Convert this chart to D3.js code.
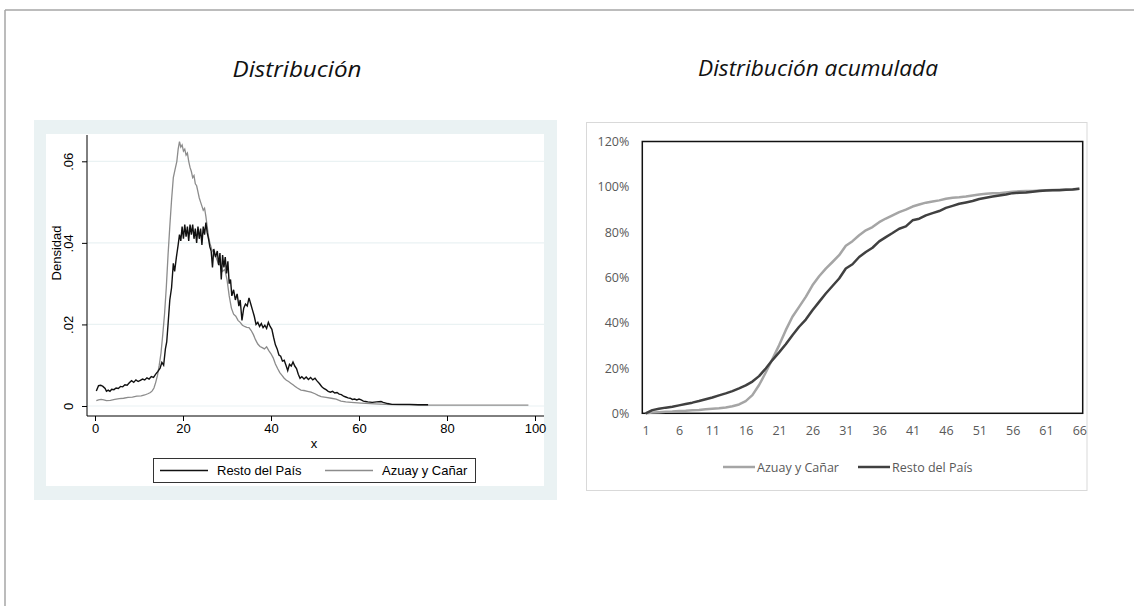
<!DOCTYPE html>
<html>
<head>
<meta charset="utf-8">
<script src="https://cdn.jsdelivr.net/npm/d3@7"></script>
<style>
  body { margin: 0; background: #fff; }
  svg { display: block; }
</style>
</head>
<body>
<svg id="chart" width="1134" height="606"></svg>
<script>
// density curves (Stata kdensity-like), [x, densidad]
const restoDens = [
  [0.3,0.0037],[0.8,0.0050],[1.3,0.0051],[1.8,0.0048],[2.3,0.0043],[2.6,0.0036],[3.0,0.0039],[3.4,0.0036],
  [3.8,0.0041],[4.3,0.0040],[4.8,0.0044],[5.3,0.0043],[5.8,0.0048],[6.3,0.0047],[6.8,0.0052],[7.3,0.0051],
  [7.8,0.0057],[8.3,0.0062],[8.8,0.0058],[9.3,0.0064],[9.8,0.0060],[10.3,0.0063],[10.8,0.0066],[11.3,0.0064],
  [11.8,0.0069],[12.3,0.0066],[12.8,0.0072],[13.3,0.0070],[13.8,0.0078],[14.3,0.0085],[14.8,0.0093],[15.2,0.0107],
  [15.6,0.0100],[16.0,0.0140],[16.3,0.0157],[16.6,0.0200],[17.0,0.0260],[17.4,0.0290],[17.8,0.0350],[18.1,0.0330],
  [18.5,0.0365],[18.9,0.0395],[19.2,0.0420],[19.5,0.0405],[19.8,0.0440],[20.1,0.0410],[20.4,0.0445],[20.7,0.0415],
  [21.0,0.0440],[21.3,0.0405],[21.6,0.0445],[21.9,0.0420],[22.2,0.0445],[22.5,0.0410],[22.8,0.0435],[23.1,0.0400],
  [23.4,0.0440],[23.7,0.0410],[24.0,0.0435],[24.3,0.0395],[24.6,0.0440],[24.9,0.0420],[25.2,0.0450],[25.5,0.0425],
  [25.8,0.0410],[26.1,0.0390],[26.4,0.0380],[26.7,0.0340],[27.0,0.0385],[27.4,0.0365],[27.8,0.0380],[28.1,0.0345],
  [28.4,0.0375],[28.7,0.0310],[29.0,0.0370],[29.3,0.0340],[29.6,0.0365],[29.9,0.0325],[30.2,0.0355],[30.5,0.0300],
  [30.8,0.0310],[31.1,0.0270],[31.5,0.0285],[31.9,0.0260],[32.3,0.0275],[32.7,0.0245],[33.0,0.0260],[33.4,0.0210],
  [33.8,0.0240],[34.2,0.0250],[34.6,0.0245],[35.0,0.0265],[35.4,0.0250],[35.8,0.0235],[36.2,0.0220],[36.6,0.0200],
  [37.0,0.0205],[37.4,0.0195],[37.8,0.0202],[38.2,0.0192],[38.6,0.0198],[39.0,0.0190],[39.4,0.0205],[39.8,0.0195],
  [40.2,0.0188],[40.6,0.0168],[41.0,0.0150],[41.4,0.0140],[41.8,0.0125],[42.2,0.0122],[42.6,0.0110],[43.0,0.0112],
  [43.4,0.0100],[43.8,0.0087],[44.2,0.0102],[44.6,0.0098],[45.0,0.0108],[45.4,0.0098],[45.8,0.0092],[46.2,0.0078],
  [46.6,0.0068],[47.0,0.0072],[47.5,0.0066],[48.0,0.0071],[48.5,0.0065],[49.0,0.0070],[49.5,0.0064],[50.0,0.0068],
  [50.5,0.0061],[51.0,0.0055],[51.5,0.0048],[52.0,0.0043],[52.5,0.0040],[53.0,0.0036],[53.5,0.0034],[54.0,0.0036],
  [54.5,0.0032],[55.0,0.0033],[55.5,0.0029],[56.0,0.0028],[56.5,0.0024],[57.0,0.0022],[57.5,0.0020],[58.0,0.0019],
  [58.5,0.0016],[59.0,0.0017],[59.5,0.0015],[60.0,0.0017],[60.5,0.0015],[61.0,0.0012],[61.5,0.0011],[62.0,0.0010],
  [63.0,0.0009],[64.0,0.0010],[65.0,0.0011],[65.5,0.0009],[66.5,0.0006],[67.5,0.0004],[70.0,0.0004],[71.5,0.0004],
  [73.5,0.0003],[75.7,0.0003]
];
const azuayDens = [
  [0.3,0.0013],[0.8,0.0015],[1.4,0.0016],[2.0,0.0015],[2.6,0.0013],[3.5,0.0014],[4.5,0.0016],[5.5,0.0018],
  [6.5,0.0019],[7.5,0.0021],[8.5,0.0022],[9.5,0.0024],[10.5,0.0025],[11.3,0.0027],[12.0,0.0030],[12.6,0.0033],
  [13.0,0.0037],[13.4,0.0044],[13.8,0.0058],[14.2,0.0075],[14.6,0.0100],[15.0,0.0130],[15.4,0.0175],[15.8,0.0225],
  [16.2,0.0290],[16.6,0.0370],[17.0,0.0440],[17.4,0.0505],[17.8,0.0560],[18.2,0.0580],[18.6,0.0600],[18.9,0.0630],
  [19.2,0.0648],[19.5,0.0635],[19.8,0.0640],[20.1,0.0625],[20.4,0.0630],[20.7,0.0615],[21.0,0.0620],[21.3,0.0600],
  [21.6,0.0585],[21.9,0.0575],[22.2,0.0560],[22.5,0.0565],[22.8,0.0545],[23.1,0.0540],[23.4,0.0525],[23.7,0.0510],
  [24.0,0.0500],[24.3,0.0490],[24.6,0.0480],[24.9,0.0485],[25.2,0.0465],[25.5,0.0440],[25.8,0.0415],[26.1,0.0400],
  [26.5,0.0385],[27.0,0.0375],[27.5,0.0365],[28.0,0.0350],[28.5,0.0345],[29.0,0.0330],[29.5,0.0335],[30.0,0.0310],
  [30.5,0.0270],[31.0,0.0240],[31.5,0.0225],[32.0,0.0220],[32.5,0.0210],[33.0,0.0205],[33.5,0.0198],[34.0,0.0195],
  [34.5,0.0193],[35.0,0.0192],[35.5,0.0185],[36.0,0.0175],[36.5,0.0162],[37.0,0.0152],[37.5,0.0146],[38.0,0.0143],
  [38.5,0.0140],[39.0,0.0145],[39.5,0.0136],[40.0,0.0128],[40.5,0.0118],[41.0,0.0103],[41.5,0.0092],[42.0,0.0082],
  [42.5,0.0075],[43.0,0.0068],[43.5,0.0063],[44.0,0.0060],[44.5,0.0056],[45.0,0.0052],[45.5,0.0048],[46.0,0.0044],
  [46.8,0.0039],[47.5,0.0038],[48.3,0.0036],[49.1,0.0034],[50.0,0.0030],[50.7,0.0026],[51.4,0.0023],[52.5,0.0021],
  [53.7,0.0019],[54.8,0.0017],[55.9,0.0012],[57.0,0.0010],[58.2,0.0009],[60.5,0.0007],[63.6,0.0005],[66.0,0.0004],
  [68.9,0.0003],[75.0,0.0002],[82.6,0.0002],[90.0,0.0002],[98.5,0.0002]
];
const densXTicks = [0, 20, 40, 60, 80, 100];
const densYTicks = [0, 0.02, 0.04, 0.06];

// cumulative distribution, categories 1..66 (percent)
const categories = d3.range(1, 67);
const azuayCum = [
  0, 0.3, 0.5, 0.7, 0.8, 1.0, 1.1, 1.3, 1.5, 1.8, 2.0, 2.2, 2.6, 3.1, 3.9, 5.4, 8.0, 12.5, 18.0, 24.0,
  30.0, 36.7, 42.6, 47.0, 51.4, 56.5, 60.5, 63.9, 66.8, 69.8, 74.0, 76.0, 78.6, 80.8, 82.2, 84.4, 86.0, 87.4, 88.8, 89.9,
  91.3, 92.2, 93.0, 93.5, 94.0, 94.7, 95.2, 95.4, 95.7, 96.2, 96.6, 96.9, 97.1, 97.2, 97.5, 97.8, 98.0, 98.1, 98.2, 98.4,
  98.5, 98.6, 98.7, 98.8, 98.9, 99.1
];
const restoCum = [
  0, 1.4, 2.0, 2.5, 2.9, 3.5, 4.1, 4.7, 5.4, 6.2, 7.0, 7.9, 8.8, 9.8, 11.0, 12.3, 14.0, 16.4, 19.8, 23.5,
  26.9, 30.5, 34.5, 38.2, 41.4, 45.5, 49.2, 52.9, 56.2, 59.5, 63.9, 65.8, 69.0, 71.2, 73.1, 75.9, 77.8, 79.6, 81.5, 82.5,
  85.2, 85.9, 87.4, 88.4, 89.3, 90.7, 91.6, 92.5, 93.1, 93.7, 94.6, 95.2, 95.7, 96.2, 96.6, 97.2, 97.4, 97.5, 97.8, 98.1,
  98.4, 98.5, 98.5, 98.7, 98.8, 99.1
];
const cumYTicks = [0, 20, 40, 60, 80, 100, 120];

const svg = d3.select("#chart");

// page frame
svg.append("line").attr("x1", 5).attr("x2", 1134).attr("y1", 10).attr("y2", 10)
  .attr("stroke", "#a6a6a6").attr("stroke-width", 1.5);
svg.append("line").attr("x1", 5).attr("x2", 5).attr("y1", 10).attr("y2", 606)
  .attr("stroke", "#a6a6a6").attr("stroke-width", 1.5);

// titles
const titleFont = "'Open Sans', 'Noto Sans', sans-serif";
svg.append("text").attr("x", 297).attr("y", 77).attr("text-anchor", "middle")
  .attr("font-family", titleFont).attr("font-style", "italic").attr("font-size", 22)
  .attr("textLength", 129).attr("lengthAdjust", "spacingAndGlyphs")
  .attr("fill", "#111").text("Distribución");
svg.append("text").attr("x", 818).attr("y", 76).attr("text-anchor", "middle")
  .attr("font-family", titleFont).attr("font-style", "italic").attr("font-size", 22)
  .attr("textLength", 240).attr("lengthAdjust", "spacingAndGlyphs")
  .attr("fill", "#111").text("Distribución acumulada");

// ---------- left: density (Stata look) ----------
const stataFont = "'Liberation Sans', Arial, sans-serif";
const left = svg.append("g");
left.append("rect").attr("x", 34).attr("y", 120).attr("width", 523).attr("height", 380).attr("fill", "#eaf2f3");
left.append("rect").attr("x", 46).attr("y", 134).attr("width", 498).attr("height", 352).attr("fill", "#fff");

const dx = d3.scaleLinear().domain([0, 100]).range([95, 535]);
const dy = d3.scaleLinear().domain([0, 0.06]).range([406, 161.3]);

// gridlines
left.append("g").selectAll("line").data(densYTicks).join("line")
  .attr("x1", 87).attr("x2", 544).attr("y1", d => dy(d)).attr("y2", d => dy(d))
  .attr("stroke", "#eaf2f3").attr("stroke-width", 1.2);

const yAxisL = left.append("g").attr("transform", "translate(87,0)")
  .call(d3.axisLeft(dy).tickValues(densYTicks).tickSize(5).tickFormat(d => d === 0 ? "0" : d3.format(".2f")(d).replace(/^0/, "")));
yAxisL.select(".domain").attr("d", "M0,135V416").attr("stroke", "#000");
yAxisL.selectAll(".tick line").attr("stroke", "#000");
yAxisL.selectAll(".tick text")
  .attr("x", 0).attr("y", 0).attr("dy", 0)
  .attr("transform", "translate(-14,0) rotate(-90)")
  .attr("text-anchor", "middle")
  .attr("font-family", stataFont).attr("font-size", 13).attr("fill", "#000");

const xAxisL = left.append("g").attr("transform", "translate(0,416)")
  .call(d3.axisBottom(dx).tickValues(densXTicks).tickSize(5).tickFormat(d3.format("d")));
xAxisL.select(".domain").attr("d", "M87,0H544").attr("stroke", "#000");
xAxisL.selectAll(".tick line").attr("stroke", "#000");
xAxisL.selectAll(".tick text").attr("y", 8).attr("dy", "0.71em")
  .attr("font-family", stataFont).attr("font-size", 13).attr("fill", "#000");

left.append("text").attr("transform", "translate(61,253) rotate(-90)").attr("text-anchor", "middle")
  .attr("font-family", stataFont).attr("font-size", 13).attr("fill", "#000").text("Densidad");
left.append("text").attr("x", 314).attr("y", 448).attr("text-anchor", "middle")
  .attr("font-family", stataFont).attr("font-size", 13).attr("fill", "#000").text("x");

const densLine = d3.line().x(d => dx(d[0])).y(d => dy(d[1]));
left.append("path").datum(azuayDens).attr("d", densLine)
  .attr("fill", "none").attr("stroke", "#8c8c8c").attr("stroke-width", 1.3);
left.append("path").datum(restoDens).attr("d", densLine)
  .attr("fill", "none").attr("stroke", "#111").attr("stroke-width", 1.4);

// legend
left.append("rect").attr("x", 153.5).attr("y", 458.5).attr("width", 322).attr("height", 24)
  .attr("fill", "#fff").attr("stroke", "#333").attr("stroke-width", 1);
const legL = [
  { name: "Resto del País", color: "#111", x: 160 },
  { name: "Azuay y Cañar", color: "#8c8c8c", x: 325 }
];
legL.forEach(l => {
  left.append("line").attr("x1", l.x).attr("x2", l.x + 48).attr("y1", 470.5).attr("y2", 470.5)
    .attr("stroke", l.color).attr("stroke-width", 1.4);
  left.append("text").attr("x", l.x + 57).attr("y", 475).attr("font-family", stataFont)
    .attr("font-size", 13).attr("fill", "#000").text(l.name);
});

// ---------- right: cumulative (Excel look) ----------
const xlFont = "'Open Sans', 'Noto Sans', sans-serif";
const plotL = 642.3, plotR = 1082.7, plotT = 141.5, plotB = 413.3;
const right = svg.append("g");
right.append("rect").attr("x", 586.5).attr("y", 122.5).attr("width", 500.5).attr("height", 368)
  .attr("fill", "#fff").attr("stroke", "#d9d9d9").attr("stroke-width", 1);

const cx = d3.scalePoint().domain(categories).range([plotL, plotR]).padding(0.5);
const cy = d3.scaleLinear().domain([0, 120]).range([plotB, plotT]);

const yAxisR = right.append("g").attr("transform", `translate(${plotL},0)`)
  .call(d3.axisLeft(cy).tickValues(cumYTicks).tickSize(0).tickPadding(13).tickFormat(d => d + "%"));
yAxisR.select(".domain").remove();
yAxisR.selectAll(".tick text").attr("font-family", xlFont).attr("font-size", 12.5).attr("fill", "#595959");

const xAxisR = right.append("g").attr("transform", `translate(0,${plotB})`)
  .call(d3.axisBottom(cx).tickValues(categories.filter(c => (c - 1) % 5 === 0)).tickSize(0).tickPadding(13));
xAxisR.select(".domain").remove();
xAxisR.selectAll(".tick text").attr("font-family", xlFont).attr("font-size", 12.5).attr("fill", "#595959");

right.append("rect").attr("x", plotL).attr("y", plotT).attr("width", plotR - plotL).attr("height", plotB - plotT)
  .attr("fill", "none").attr("stroke", "#111").attr("stroke-width", 1.5);

const cumLine = d3.line().x((d, i) => cx(categories[i])).y(d => cy(d));
right.append("path").datum(azuayCum).attr("d", cumLine)
  .attr("fill", "none").attr("stroke", "#a5a5a5").attr("stroke-width", 2.5).attr("stroke-linejoin", "round");
right.append("path").datum(restoCum).attr("d", cumLine)
  .attr("fill", "none").attr("stroke", "#404040").attr("stroke-width", 2.5).attr("stroke-linejoin", "round");

const legR = [
  { name: "Azuay y Cañar", color: "#a5a5a5", x: 723 },
  { name: "Resto del País", color: "#404040", x: 858 }
];
legR.forEach(l => {
  right.append("line").attr("x1", l.x).attr("x2", l.x + 32).attr("y1", 467).attr("y2", 467)
    .attr("stroke", l.color).attr("stroke-width", 2.5);
  right.append("text").attr("x", l.x + 34).attr("y", 471.5).attr("font-family", xlFont)
    .attr("font-size", 12.5).attr("fill", "#595959").text(l.name);
});
</script>
</body>
</html>
